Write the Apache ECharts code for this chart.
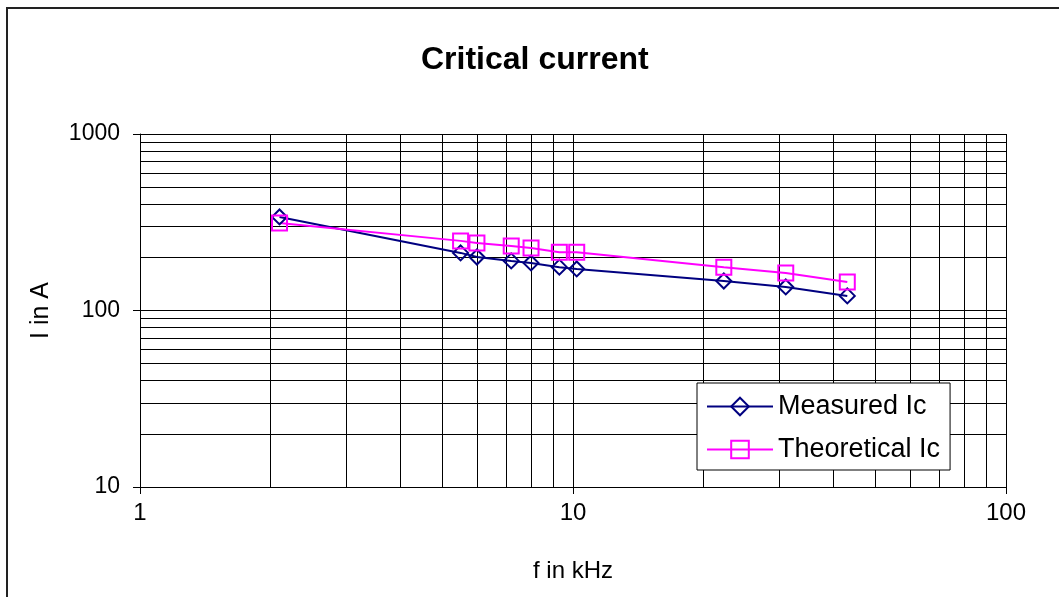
<!DOCTYPE html>
<html>
<head>
<meta charset="utf-8">
<script src="https://cdn.jsdelivr.net/npm/echarts@6/dist/echarts.min.js"></script>
<style>
  html, body { margin: 0; padding: 0; background: #fff; }
  #chart { width: 1059px; height: 597px; }
</style>
</head>
<body>
<div id="chart"></div>
<script>
// frequency in kHz (same for both series)
const freq = [2.1, 5.5, 6.0, 7.2, 8.0, 9.3, 10.2, 22.3, 31, 43];
const measuredIc = [339, 212, 201, 191, 186, 176, 172, 147, 136, 121];
const theoreticalIc = [313, 248, 241, 232, 226, 214, 214, 176, 163, 145];

// minor gridline positions of the log axes
const minorX = [2, 3, 4, 5, 6, 7, 8, 9, 20, 30, 40, 50, 60, 70, 80, 90];
const minorY = [20, 30, 40, 50, 60, 70, 80, 90, 200, 300, 400, 500, 600, 700, 800, 900];

const font = 'Liberation Sans, Arial, sans-serif';

const myChart = echarts.init(document.getElementById('chart'));

const option = {
  animation: false,
  backgroundColor: '#fff',
  textStyle: { fontFamily: font },
  graphic: [
    {
      type: 'rect',
      shape: { x: 7, y: 8, width: 1200, height: 800 },
      style: { fill: 'none', stroke: '#222', lineWidth: 2 },
      silent: true,
    },
  ],
  title: {
    text: 'Critical current',
    left: 416,
    top: 39,
    textStyle: { fontFamily: font, fontSize: 32, fontWeight: 'bold', color: '#000' },
  },
  legend: {
    orient: 'vertical',
    left: 697,
    top: 383,
    data: ['Measured Ic', 'Theoretical Ic'],
    backgroundColor: '#fff',
    borderColor: '#000',
    borderWidth: 1,
    borderRadius: 0,
    padding: [10, 10, 7, 9],
    itemWidth: 66,
    itemHeight: 22,
    itemGap: 16,
    textStyle: { fontFamily: font, fontSize: 27, color: '#000' },
  },
  grid: {
    left: 140,
    right: 53,
    top: 134,
    bottom: 110,
  },
  xAxis: {
    type: 'log',
    logBase: 10,
    min: 1,
    max: 100,
    name: 'f in kHz',
    nameLocation: 'middle',
    nameGap: 72,
    nameTextStyle: { fontFamily: font, fontSize: 24, color: '#000' },
    axisLine: { lineStyle: { color: '#000', width: 1 } },
    axisTick: { show: true, inside: false, length: 7, lineStyle: { color: '#000' } },
    axisLabel: { fontFamily: font, fontSize: 24, color: '#000', margin: 14 },
    splitLine: { show: true, lineStyle: { color: '#000', width: 1 } },
  },
  yAxis: {
    type: 'log',
    logBase: 10,
    min: 10,
    max: 1000,
    name: 'I in A',
    nameLocation: 'middle',
    nameGap: 86,
    nameTextStyle: { fontFamily: font, fontSize: 25, color: '#000' },
    axisLine: { show: true, lineStyle: { color: '#000', width: 1 } },
    axisTick: { show: true, inside: false, length: 7, lineStyle: { color: '#000' } },
    axisLabel: { fontFamily: font, fontSize: 23, color: '#000', margin: 20, formatter: v => String(v) },
    splitLine: { show: true, lineStyle: { color: '#000', width: 1 } },
  },
  series: [
    {
      // minor gridlines only
      name: 'grid',
      type: 'line',
      data: [],
      silent: true,
      markLine: {
        silent: true,
        symbol: 'none',
        z: 1,
        animation: false,
        label: { show: false },
        lineStyle: { color: '#000', width: 1, type: 'solid' },
        emphasis: { disabled: true },
        data: minorX.map(v => ({ xAxis: v })).concat(minorY.map(v => ({ yAxis: v }))),
      },
    },
    {
      name: 'Measured Ic',
      type: 'line',
      z: 3,
      data: freq.map((f, i) => [f, measuredIc[i]]),
      symbol: 'diamond',
      symbolSize: 15,
      lineStyle: { color: '#000080', width: 2 },
      itemStyle: { color: 'transparent', borderColor: '#000080', borderWidth: 2 },
    },
    {
      name: 'Theoretical Ic',
      type: 'line',
      z: 3,
      data: freq.map((f, i) => [f, theoreticalIc[i]]),
      symbol: 'rect',
      symbolSize: 15,
      lineStyle: { color: '#FF00FF', width: 2 },
      itemStyle: { color: 'transparent', borderColor: '#FF00FF', borderWidth: 2 },
    },
  ],
};

myChart.setOption(option);
</script>
</body>
</html>
